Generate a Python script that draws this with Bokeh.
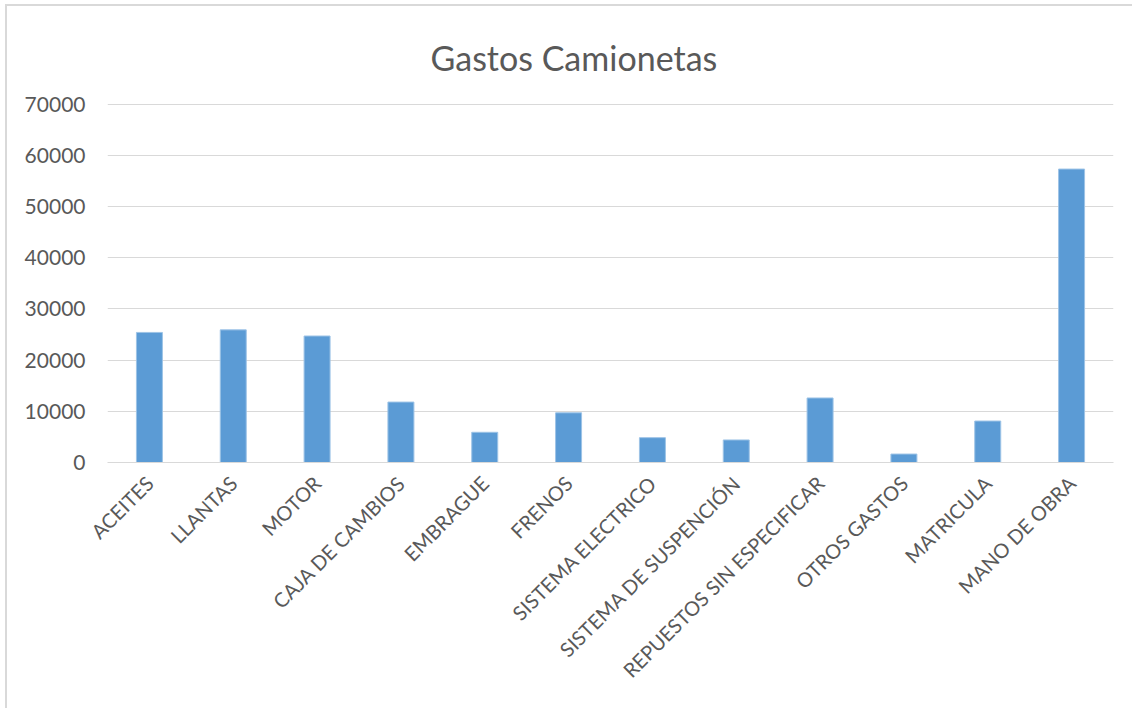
from bokeh.plotting import figure
from bokeh.models import FactorRange, Range1d, ColumnDataSource, SingleIntervalTicker, NumeralTickFormatter
from bokeh.embed import file_html
from bokeh.resources import INLINE
import math

categories = ["ACEITES", "LLANTAS", "MOTOR", "CAJA DE CAMBIOS", "EMBRAGUE", "FRENOS",
              "SISTEMA ELECTRICO", "SISTEMA DE SUSPENCIÓN", "REPUESTOS SIN ESPECIFICAR",
              "OTROS GASTOS", "MATRICULA", "MANO DE OBRA"]
gastos = [25400, 25900, 24700, 11800, 5900, 9700, 4850, 4400, 12600, 1650, 8100, 57300]

source = ColumnDataSource(data=dict(cat=categories, val=gastos))

p = figure(width=1127, height=704, x_range=FactorRange(*categories, range_padding=0),
           y_range=Range1d(0, 70300), output_backend="svg", toolbar_location=None,
           title="Gastos Camionetas",
           min_border_left=100, min_border_right=21, min_border_top=96, min_border_bottom=248,
           styles={"position": "absolute", "left": "5px", "top": "4px",
                   "border-left": "2px solid #d9d9d9", "border-top": "2px solid #d9d9d9"})

p.vbar(x="cat", top="val", width=0.31, source=source, fill_color="#5B9BD5",
       line_color="#9DC3E6", line_width=1)

p.title.align = "left"
p.title.offset = 323
p.title.text_font = "Lato"
p.title.text_font_style = "normal"
p.title.text_font_size = "34px"
p.title.text_color = "#595959"
p.title.standoff = 50

p.outline_line_color = None
p.border_fill_color = "white"
p.xgrid.grid_line_color = None
p.ygrid.grid_line_color = "#d9d9d9"
p.ygrid.grid_line_width = 1

p.yaxis.ticker = SingleIntervalTicker(interval=10000)
p.yaxis.formatter = NumeralTickFormatter(format="0")
p.yaxis.axis_line_color = None
p.yaxis.major_tick_line_color = None
p.yaxis.minor_tick_line_color = None
p.yaxis.major_label_text_font = "Lato"
p.yaxis.major_label_text_font_size = "21px"
p.yaxis.major_label_text_color = "#595959"
p.yaxis.major_label_standoff = 16

p.xaxis.axis_line_color = "#d9d9d9"
p.xaxis.major_tick_line_color = None
p.xaxis.minor_tick_line_color = None
p.xaxis.major_label_orientation = math.pi / 4
p.xaxis.major_label_text_font = "Lato"
p.xaxis.major_label_text_font_size = "20px"
p.xaxis.major_label_text_color = "#595959"
p.xaxis.major_label_standoff = 11

open("out.html", "w").write(file_html(p, INLINE))
